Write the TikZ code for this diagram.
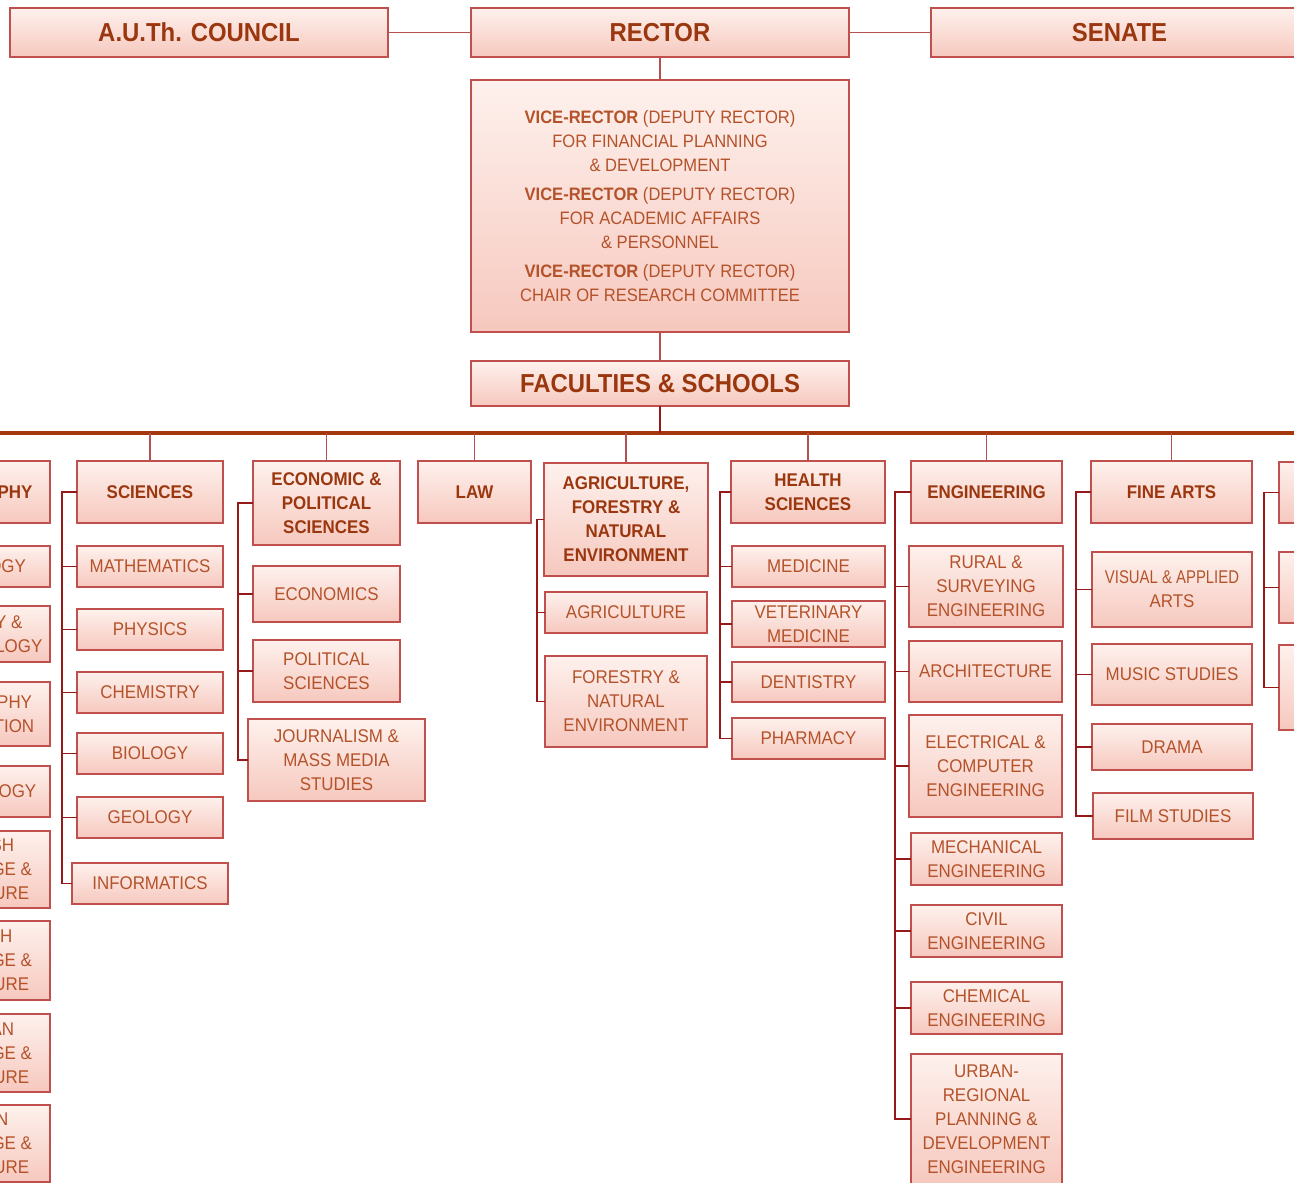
\documentclass[tikz,border=0pt]{standalone}
\usepackage{fontspec}
\usepackage{graphicx}
\setmainfont[FakeStretch=0.92]{Liberation Sans}
\definecolor{topc}{RGB}{254,241,237}
\definecolor{botc}{RGB}{246,200,190}
\definecolor{bordc}{RGB}{192,80,77}
\definecolor{headtxt}{RGB}{155,55,15}
\definecolor{subtxt}{RGB}{180,82,42}
\definecolor{linec}{RGB}{180,80,80}
\definecolor{brc}{RGB}{150,25,25}
\definecolor{busc}{RGB}{165,55,15}
\newcommand\bx[7]{\node[#6,minimum width={(#4)-(#2)},minimum height={(#5)-(#3)}] (#1) at ({((#2)+(#4))/2},{((#3)+(#5))/2}) {#7};}
\begin{document}
\begin{tikzpicture}[x=1pt,y=-1pt,
  box/.style={draw=bordc,line width=1.3pt,top color=topc,bottom color=botc,align=center,inner sep=0pt,outer sep=0pt},
  sub/.style={box,text=subtxt,font=\fontsize{18.4}{24}\selectfont},
  head/.style={box,text=headtxt,font=\bfseries\fontsize{18.4}{24}\selectfont},
  top/.style={box,text=headtxt,font=\bfseries\fontsize{26}{28}\selectfont},
  vicebox/.style={box,text=subtxt,font=\fontsize{18}{24}\selectfont},
  conn/.style={draw=linec,line width=1.2pt},
  brk/.style={draw=brc,line width=1.5pt},
  busline/.style={draw=busc,line width=3.5pt},
  busdrop/.style={draw=brc,line width=2.4pt}]
\useasboundingbox (0,0) rectangle (1294,1183);
\clip (0,0) rectangle (1294,1183);
% top
\bx{council}{10}{8}{388}{57}{top}{A.U.Th. COUNCIL}
\bx{rector}{471}{8}{849}{57}{top}{RECTOR}
\bx{senate}{931}{8}{1308}{57}{top}{SENATE}
\bx{vice}{471}{80}{849}{332}{vicebox}{\textbf{VICE-RECTOR} (DEPUTY RECTOR)\\FOR FINANCIAL PLANNING\\\& DEVELOPMENT\\[5pt]\textbf{VICE-RECTOR} (DEPUTY RECTOR)\\FOR ACADEMIC AFFAIRS\\\& PERSONNEL\\[5pt]\textbf{VICE-RECTOR} (DEPUTY RECTOR)\\CHAIR OF RESEARCH COMMITTEE}
\bx{fac}{471}{361}{849}{406}{top}{FACULTIES \& SCHOOLS}
\coordinate (busL) at (0,433);
\coordinate (busR) at (1294,433);
% left cut column
\bx{phil}{-96}{461}{50}{523}{head}{PHILOSOPHY}
\bx{philol}{-96}{546}{50}{587}{sub}{PHILOLOGY}
\bx{hist}{-96}{606}{50}{662}{sub}{HISTORY \&\\ARCHAEOLOGY}
\bx{phed}{-96}{682}{50}{746}{sub}{PHILOSOPHY\\\& EDUCATION}
\bx{psy}{-96}{766}{50}{817}{sub}{PSYCHOLOGY}
\bx{engl}{-96}{831}{50}{908}{sub}{ENGLISH\\LANGUAGE \&\\LITERATURE}
\bx{fre}{-96}{921}{50}{1000}{sub}{FRENCH\\LANGUAGE \&\\LITERATURE}
\bx{ger}{-96}{1014}{50}{1092}{sub}{GERMAN\\LANGUAGE \&\\LITERATURE}
\bx{ita}{-96}{1105}{50}{1182}{sub}{ITALIAN\\LANGUAGE \&\\LITERATURE}
% sciences
\bx{sci}{77}{461}{223}{523}{head}{SCIENCES}
\bx{math}{77}{546}{223}{587}{sub}{MATHEMATICS}
\bx{phys}{77}{609}{223}{650}{sub}{PHYSICS}
\bx{chem}{77}{672}{223}{713}{sub}{CHEMISTRY}
\bx{bio}{77}{733}{223}{774}{sub}{BIOLOGY}
\bx{geo}{77}{797}{223}{838}{sub}{GEOLOGY}
\bx{inf}{72}{863}{228}{904}{sub}{INFORMATICS}
% economic
\bx{econ}{253}{461}{400}{545}{head}{ECONOMIC \&\\POLITICAL\\SCIENCES}
\bx{ecs}{253}{566}{400}{622}{sub}{ECONOMICS}
\bx{pols}{253}{640}{400}{702}{sub}{POLITICAL\\SCIENCES}
\bx{jour}{248}{719}{425}{801}{sub}{JOURNALISM \&\\MASS MEDIA\\STUDIES}
% law
\bx{law}{418}{461}{531}{523}{head}{LAW}
% agriculture
\bx{agri}{544}{463}{708}{576}{head}{AGRICULTURE,\\FORESTRY \&\\NATURAL\\ENVIRONMENT}
\bx{agr}{545}{592}{707}{633}{sub}{AGRICULTURE}
\bx{fore}{545}{656}{707}{747}{sub}{FORESTRY \&\\NATURAL\\ENVIRONMENT}
% health
\bx{health}{731}{461}{885}{523}{head}{HEALTH\\SCIENCES}
\bx{med}{732}{546}{885}{587}{sub}{MEDICINE}
\bx{vet}{732}{601}{885}{647}{sub}{VETERINARY\\MEDICINE}
\bx{dent}{732}{662}{885}{702}{sub}{DENTISTRY}
\bx{pharm}{732}{718}{885}{759}{sub}{PHARMACY}
% engineering
\bx{engf}{911}{461}{1062}{523}{head}{ENGINEERING}
\bx{rural}{909}{546}{1063}{627}{sub}{RURAL \&\\SURVEYING\\ENGINEERING}
\bx{arch}{909}{641}{1062}{702}{sub}{ARCHITECTURE}
\bx{elec}{909}{715}{1062}{817}{sub}{ELECTRICAL \&\\COMPUTER\\ENGINEERING}
\bx{mech}{911}{833}{1062}{885}{sub}{MECHANICAL\\ENGINEERING}
\bx{civil}{911}{905}{1062}{957}{sub}{CIVIL\\ENGINEERING}
\bx{chemE}{911}{982}{1062}{1034}{sub}{CHEMICAL\\ENGINEERING}
\bx{urban}{911}{1054}{1062}{1184}{sub}{URBAN-\\REGIONAL\\PLANNING \&\\DEVELOPMENT\\ENGINEERING}
% fine arts
\bx{fine}{1091}{461}{1252}{523}{head}{FINE ARTS}
\bx{vis}{1092}{552}{1252}{627}{sub}{\scalebox{0.88}[1]{VISUAL \& APPLIED}\\ARTS}
\bx{music}{1092}{644}{1252}{705}{sub}{MUSIC STUDIES}
\bx{drama}{1092}{724}{1252}{770}{sub}{DRAMA}
\bx{film}{1093}{793}{1253}{839}{sub}{FILM STUDIES}
% right cut column
\bx{rhead}{1279}{462}{1430}{523}{head}{}
\bx{rsa}{1279}{552}{1430}{623}{sub}{}
\bx{rsb}{1279}{645}{1430}{730}{sub}{}
% connectors top
\draw[conn] (council) -- (rector);
\draw[conn] (rector) -- (senate);
\draw[conn] (rector) -- (vice);
\draw[conn] (vice) -- (fac);
\draw[busline] (busL) -- (busR);
\draw[busdrop] (fac.south) -- (fac.south |- busL);
\foreach \n in {sci,econ,law,agri,health,engf,fine}
  \draw[conn] (\n.north) -- (\n.north |- busL);
% brackets
\coordinate (bsci) at (62,0);
\coordinate (becon) at (238,0);
\coordinate (bagri) at (537,0);
\coordinate (bhealth) at (720,0);
\coordinate (beng) at (895,0);
\coordinate (bfine) at (1076,0);
\coordinate (bright) at (1264,0);
\foreach \c in {math,phys,chem,bio,geo,inf}
  \draw[brk] (sci.west) -- (bsci |- sci.west) |- (\c.west);
\foreach \c in {ecs,pols,jour}
  \draw[brk] (econ.west) -- (becon |- econ.west) |- (\c.west);
\foreach \c in {agr,fore}
  \draw[brk] (agri.west) -- (bagri |- agri.west) |- (\c.west);
\foreach \c in {med,vet,dent,pharm}
  \draw[brk] (health.west) -- (bhealth |- health.west) |- (\c.west);
\foreach \c in {rural,arch,elec,mech,civil,chemE,urban}
  \draw[brk] (engf.west) -- (beng |- engf.west) |- (\c.west);
\foreach \c in {vis,music,drama,film}
  \draw[brk] (fine.west) -- (bfine |- fine.west) |- (\c.west);
\foreach \c in {rsa,rsb}
  \draw[brk] (rhead.west) -- (bright |- rhead.west) |- (\c.west);
\end{tikzpicture}
\end{document}
